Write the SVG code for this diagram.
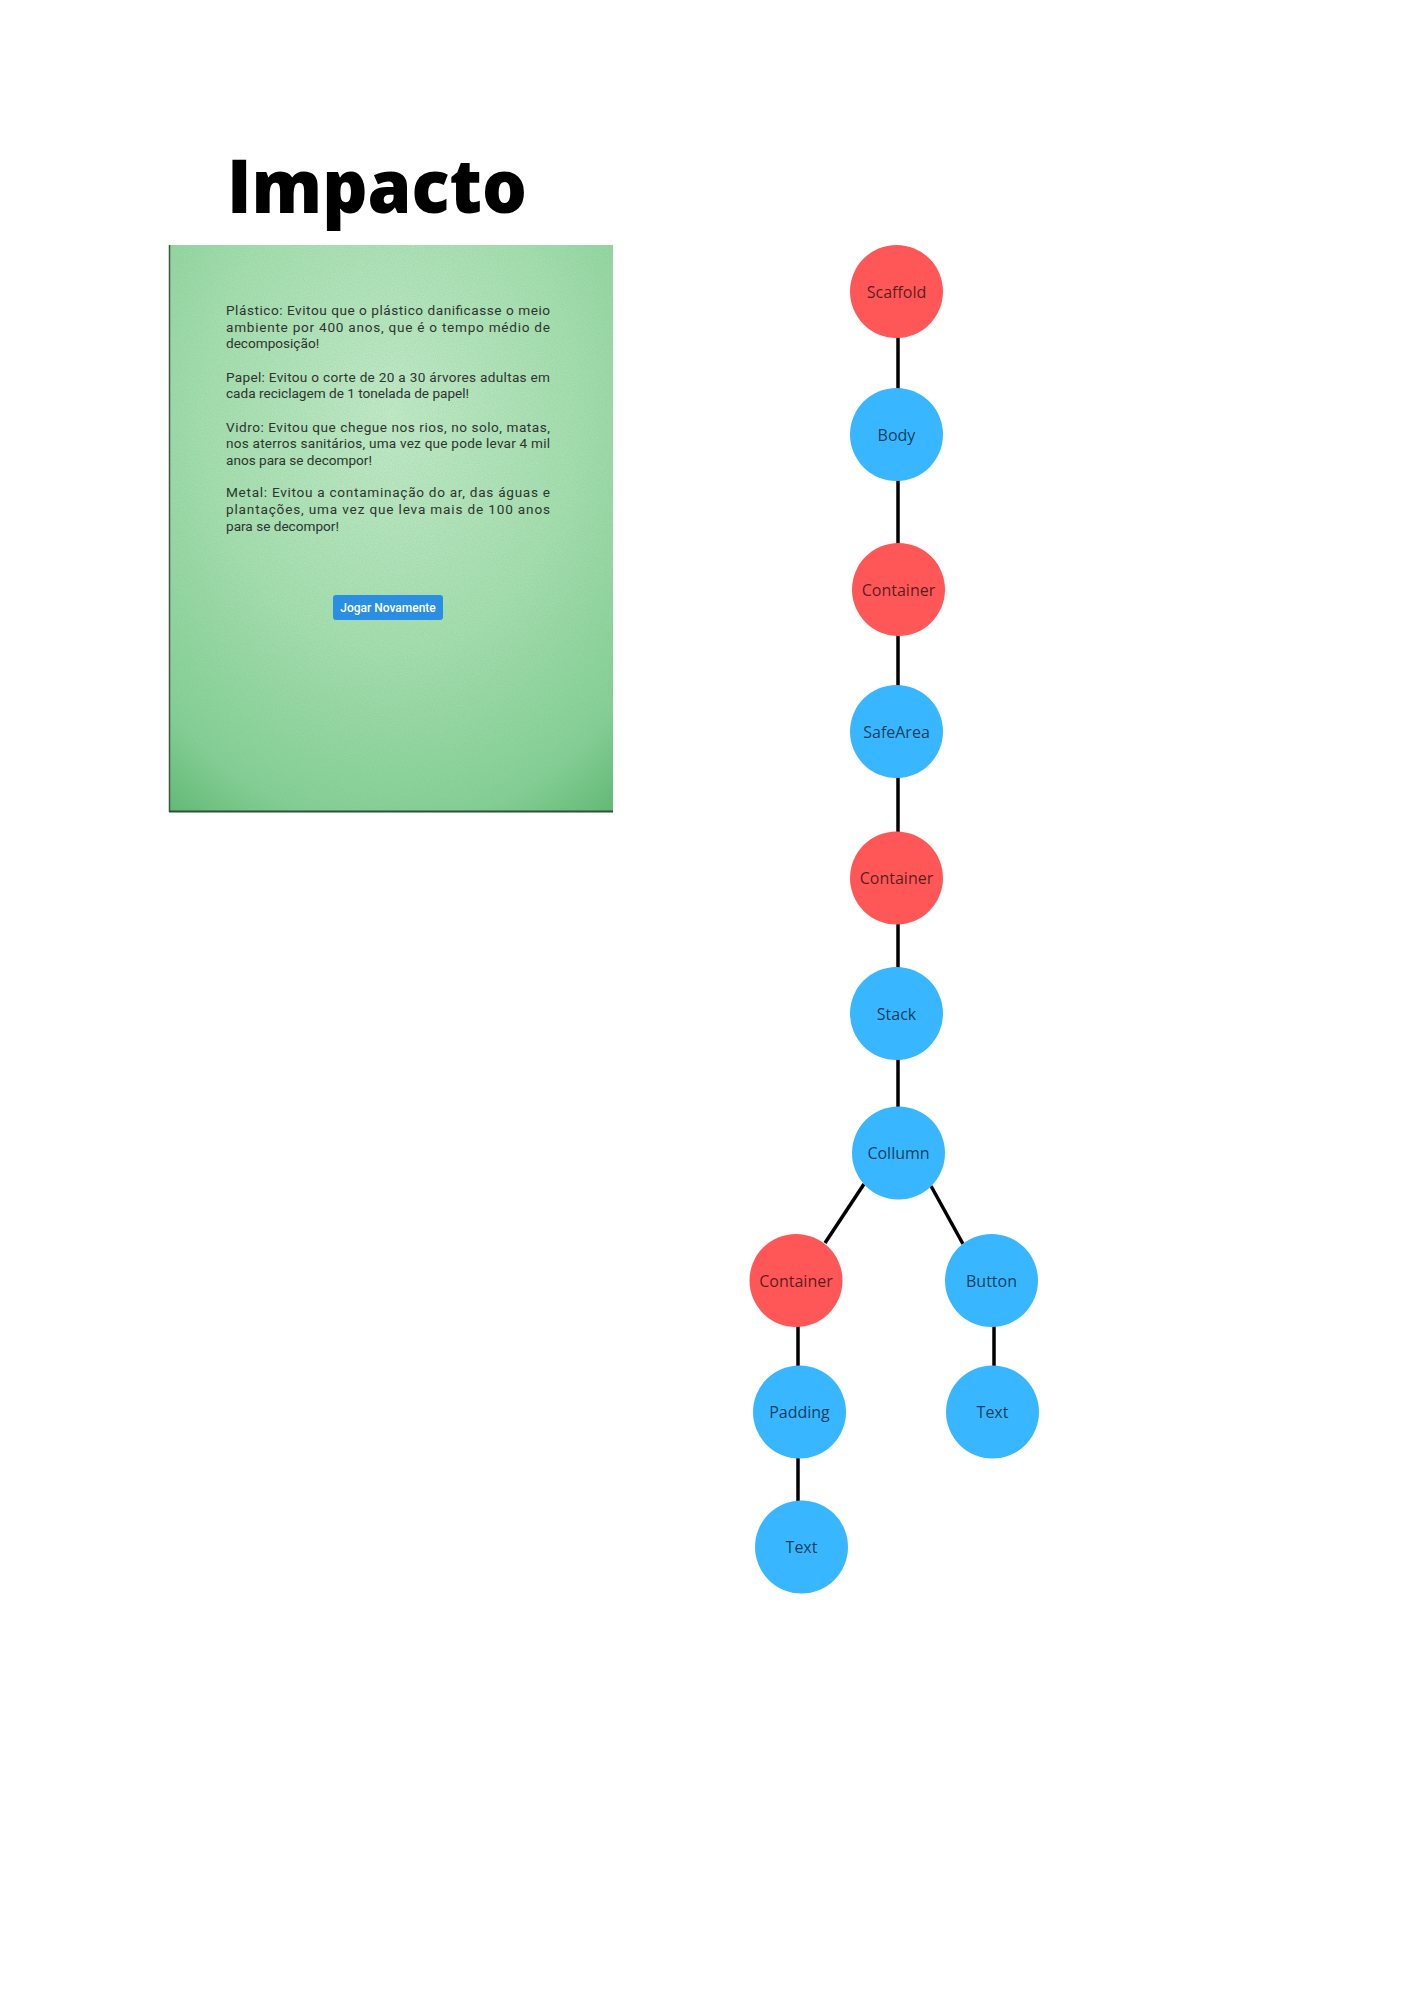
<svg xmlns="http://www.w3.org/2000/svg" width="1414" height="2000" viewBox="0 0 1414 2000">
<defs>
<style>
.title{font-family:"Open Sans","Liberation Sans",sans-serif;font-weight:800;font-size:74px;fill:#000}
.para{font-family:Roboto,"Liberation Sans",sans-serif;font-size:13.6px;fill:#2e342f}
.btn{font-family:Roboto,"Liberation Sans",sans-serif;font-weight:500;font-size:12px;fill:#fff}
.red{fill:#ff5757}
.blue{fill:#38b6ff}
.lbl{font-family:"Open Sans","Liberation Sans",sans-serif;font-size:16px;fill:#000;fill-opacity:0.68;text-anchor:middle}
.edge{stroke:#000;stroke-width:3.5;fill:none}
</style>
<radialGradient id="paper" cx="0.5" cy="0.3" r="0.85">
<stop offset="0" stop-color="#c6edcb"/>
<stop offset="0.5" stop-color="#a6e0b0"/>
<stop offset="0.85" stop-color="#84d195"/>
<stop offset="1" stop-color="#62bb75"/>
</radialGradient>
<filter id="grain" x="0" y="0" width="1" height="1">
<feTurbulence type="fractalNoise" baseFrequency="0.9" numOctaves="2" seed="3" result="n"/>
<feColorMatrix type="matrix" values="0 0 0 0 0.2  0 0 0 0 0.45  0 0 0 0 0.25  0 0 0 0.35 -0.05"/>
<feComposite in2="SourceGraphic" operator="in"/>
</filter>
</defs>
<rect width="1414" height="2000" fill="#fff"/>

<text class="title" x="227" y="213" textLength="300" lengthAdjust="spacingAndGlyphs">Impacto</text>

<g id="screenshot">
<rect x="169" y="245" width="444" height="567" fill="url(#paper)"/>
<rect x="169" y="245" width="444" height="567" fill="#fff" filter="url(#grain)"/>
<line x1="169.5" y1="245" x2="169.5" y2="812" stroke="#3a5a40" stroke-width="1.5"/>
<line x1="169" y1="811.5" x2="613" y2="811.5" stroke="#2f4f36" stroke-width="2"/>
<text class="para" x="226" y="315" textLength="324" lengthAdjust="spacing">Plástico: Evitou que o plástico danificasse o meio</text>
<text class="para" x="226" y="331.7" textLength="324" lengthAdjust="spacing">ambiente por 400 anos, que é o tempo médio de</text>
<text class="para" x="226" y="348.3">decomposição!</text>
<text class="para" x="226" y="381.7" textLength="324" lengthAdjust="spacing">Papel: Evitou o corte de 20 a 30 árvores adultas em</text>
<text class="para" x="226" y="398.3">cada reciclagem de 1 tonelada de papel!</text>
<text class="para" x="226" y="431.7" textLength="324" lengthAdjust="spacing">Vidro: Evitou que chegue nos rios, no solo, matas,</text>
<text class="para" x="226" y="448.3" textLength="324" lengthAdjust="spacing">nos aterros sanitários, uma vez que pode levar 4 mil</text>
<text class="para" x="226" y="464.5">anos para se decompor!</text>
<text class="para" x="226" y="497.3" textLength="324" lengthAdjust="spacing">Metal: Evitou a contaminação do ar, das águas e</text>
<text class="para" x="226" y="514" textLength="324" lengthAdjust="spacing">plantações, uma vez que leva mais de 100 anos</text>
<text class="para" x="226" y="530.5">para se decompor!</text>
<rect x="333" y="595" width="110" height="25" rx="3" fill="#2a8fe2"/>
<text class="btn" x="388" y="612" text-anchor="middle">Jogar Novamente</text>
</g>

<g id="connectors">
<line class="edge" x1="898" y1="336" x2="898" y2="390"/>
<line class="edge" x1="898" y1="479" x2="898" y2="545"/>
<line class="edge" x1="898" y1="634" x2="898" y2="687"/>
<line class="edge" x1="898" y1="776" x2="898" y2="834"/>
<line class="edge" x1="898" y1="922" x2="898" y2="969"/>
<line class="edge" x1="898" y1="1058" x2="898" y2="1109"/>
<line class="edge" x1="864" y1="1184" x2="825" y2="1243"/>
<line class="edge" x1="931" y1="1186" x2="963" y2="1244"/>
<line class="edge" x1="798" y1="1325" x2="798" y2="1368"/>
<line class="edge" x1="994" y1="1325" x2="994" y2="1368"/>
<line class="edge" x1="798" y1="1456" x2="798" y2="1503"/>
</g>

<g id="n-scaffold"><circle class="red" cx="896.5" cy="291.5" r="46.5"/><text class="lbl" x="896.5" y="297.5">Scaffold</text></g>
<g id="n-body"><circle class="blue" cx="896.5" cy="434.5" r="46.5"/><text class="lbl" x="896.5" y="440.5">Body</text></g>
<g id="n-container1"><circle class="red" cx="898.5" cy="589.5" r="46.5"/><text class="lbl" x="898.5" y="595.5">Container</text></g>
<g id="n-safearea"><circle class="blue" cx="896.5" cy="731.5" r="46.5"/><text class="lbl" x="896.5" y="737.5">SafeArea</text></g>
<g id="n-container2"><circle class="red" cx="896.5" cy="878" r="46.5"/><text class="lbl" x="896.5" y="884">Container</text></g>
<g id="n-stack"><circle class="blue" cx="896.5" cy="1013.5" r="46.5"/><text class="lbl" x="896.5" y="1019.5">Stack</text></g>
<g id="n-collumn"><circle class="blue" cx="898.5" cy="1153" r="46.5"/><text class="lbl" x="898.5" y="1159">Collumn</text></g>
<g id="n-container3"><circle class="red" cx="796" cy="1280.5" r="46.5"/><text class="lbl" x="796" y="1286.5">Container</text></g>
<g id="n-button"><circle class="blue" cx="991.5" cy="1280.5" r="46.5"/><text class="lbl" x="991.5" y="1286.5">Button</text></g>
<g id="n-padding"><circle class="blue" cx="799.5" cy="1412" r="46.5"/><text class="lbl" x="799.5" y="1418">Padding</text></g>
<g id="n-text1"><circle class="blue" cx="992.5" cy="1412" r="46.5"/><text class="lbl" x="992.5" y="1418">Text</text></g>
<g id="n-text2"><circle class="blue" cx="801.5" cy="1547" r="46.5"/><text class="lbl" x="801.5" y="1553">Text</text></g>
</svg>
